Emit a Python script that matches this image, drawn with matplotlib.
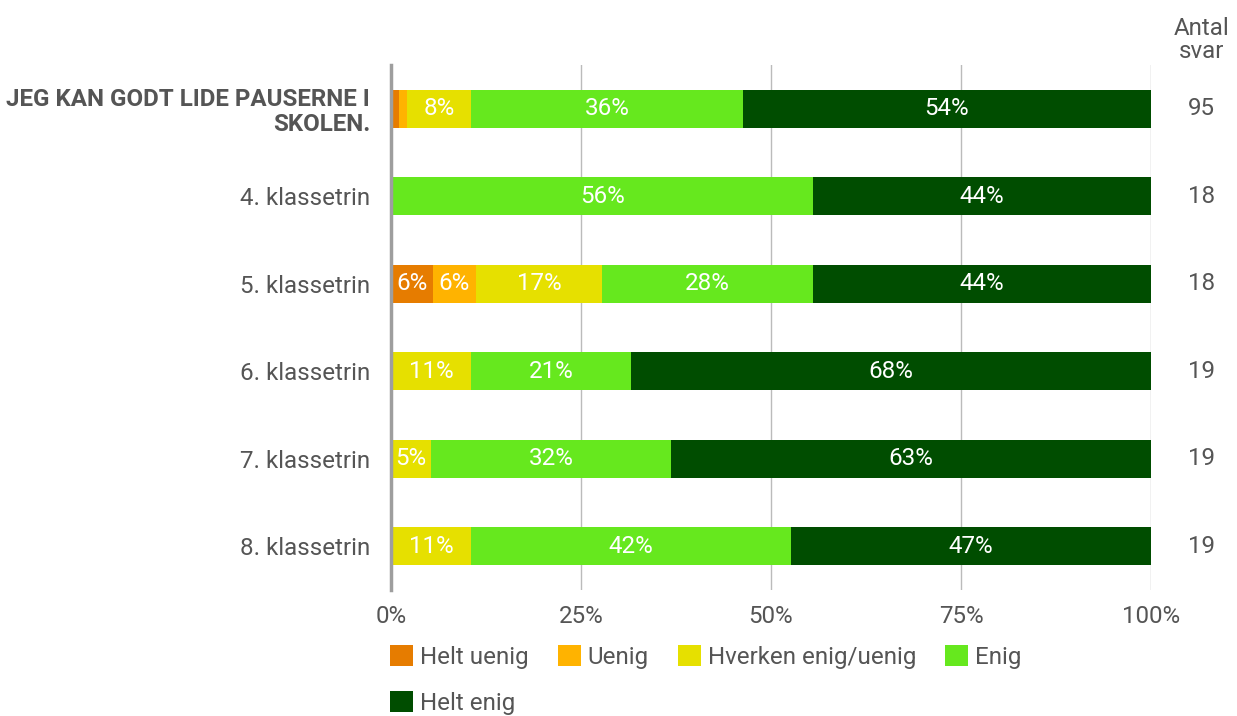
import numpy as np
import matplotlib.pyplot as plt

plt.rcParams['font.family'] = ['Roboto', 'DejaVu Sans']

rows = ["JEG KAN GODT LIDE PAUSERNE I\nSKOLEN.", "4. klassetrin", "5. klassetrin",
        "6. klassetrin", "7. klassetrin", "8. klassetrin"]
counts = [95, 18, 18, 19, 19, 19]
categories = ["Helt uenig", "Uenig", "Hverken enig/uenig", "Enig", "Helt enig"]
helt_uenig = [1.05, 0, 5.56, 0, 0, 0]
uenig = [1.05, 0, 5.56, 0, 0, 0]
hverken = [8.42, 0, 16.67, 10.53, 5.26, 10.53]
enig = [35.79, 55.56, 27.78, 21.05, 31.58, 42.11]
helt_enig = [53.68, 44.44, 44.44, 68.42, 63.16, 47.37]
colors = ["#e67c00", "#ffb300", "#e6e000", "#66e81e", "#004d00"]

series = [helt_uenig, uenig, hverken, enig, helt_enig]
grey = "#555555"
fs = 17.4

fig = plt.figure(figsize=(12.37, 7.16), dpi=100)
ax = fig.add_axes([391/1237, 1 - 590/716, 760/1237, 525/716])

y = np.arange(len(rows))
left = np.zeros(len(rows))
handles = []
for vals, col, name in zip(series, colors, categories):
    vals = np.array(vals)
    b = ax.barh(y, vals, left=left, height=0.435, color=col, label=name, zorder=3)
    handles.append(b)
    for i, v in enumerate(vals):
        if v >= 4:
            ax.text(left[i] + v / 2, y[i], f"{v:.0f}%", ha="center", va="center",
                    color="white", fontsize=fs, zorder=4)
    left += vals

ax.set_xlim(0, 100)
ax.set_ylim(5.5, -0.5)
ax.set_xticks([0, 25, 50, 75, 100])
ax.set_xticklabels(["0%", "25%", "50%", "75%", "100%"], fontsize=fs, color=grey)
ax.set_yticks(y)
ax.set_yticklabels(rows, fontsize=fs, color=grey, linespacing=1.1)
ax.get_yticklabels()[0].set_fontweight("bold")
ax.tick_params(length=0)
ax.tick_params(axis="x", pad=11)
ax.tick_params(axis="y", pad=15)
ax.xaxis.grid(True, color="#bbbbbb", linewidth=1, zorder=0)
for s in ["top", "right", "bottom"]:
    ax.spines[s].set_visible(False)
ax.spines["left"].set_color("#9e9e9e")
ax.spines["left"].set_linewidth(2.5)
ax.spines["left"].set_zorder(5)

for i, c in enumerate(counts):
    ax.text(106.6, y[i], str(c), ha="center", va="center", fontsize=fs, color=grey)
ax.text(106.6, -0.52, "Antal\nsvar", ha="center", va="bottom", fontsize=fs,
        color=grey, linespacing=1.0)

leg_kw = dict(frameon=False, fontsize=fs, labelcolor=grey, handlelength=0.95,
              handleheight=0.95, handletextpad=0.29, columnspacing=1.2,
              borderaxespad=0, borderpad=0)
fig.legend(handles[:4], categories[:4], ncol=4, loc="center left",
           bbox_to_anchor=(390/1237, 1 - 657/716), **leg_kw)
fig.legend(handles[4:], categories[4:], ncol=1, loc="center left",
           bbox_to_anchor=(390/1237, 1 - 703/716), **leg_kw)

fig.savefig("out.png", dpi=100)
